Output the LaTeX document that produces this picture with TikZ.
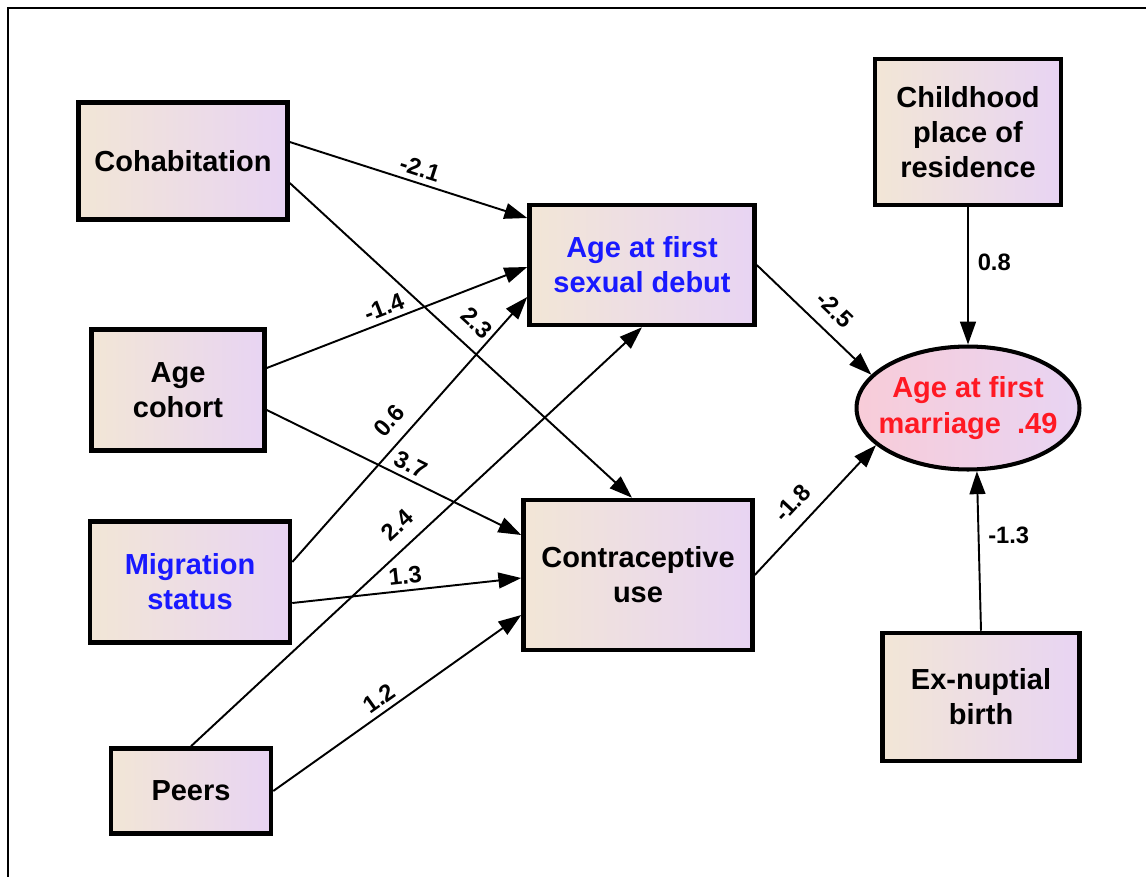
\documentclass[tikz,border=0pt]{standalone}
\usepackage{fontspec}
\setmainfont{Liberation Sans}
\usetikzlibrary{arrows.meta,calc,shapes.geometric}
\definecolor{boxleft}{RGB}{242,230,214}
\definecolor{boxright}{RGB}{232,212,243}
\definecolor{ellleft}{RGB}{248,204,216}
\definecolor{varblue}{RGB}{25,25,255}
\definecolor{varred}{RGB}{255,25,35}
\tikzset{
    varbox/.style={
        draw=black, 
        line width=2.6pt, 
        left color=boxleft, 
        right color=boxright,
        align=center,
        inner sep=0pt,
        font=\fontsize{16.5}{20}\selectfont\bfseries},
    outcome/.style={
        ellipse,
        draw=black, 
        line width=2.3pt, 
        left color=ellleft, 
        right color=boxright,
        align=center,
        inner xsep=-7.5pt,
        inner ysep=0pt,
        font=\fontsize{16.5}{20}\selectfont\bfseries},
    path arrow/.style={
        -{Triangle[length=13pt,width=9pt]},
        line width=1.1pt},
    coefficient/.style={
        inner sep=1pt,
        font=\fontsize{13.5}{16}\selectfont\bfseries},
    slanted coefficient/.style={
        coefficient,
        sloped, 
        above=2pt}
}

\begin{document}
\begin{tikzpicture}[x=0.02cm, y=-0.02cm]
\useasboundingbox (0,0) rectangle (1146,876);

% frame, cut at the right and bottom
\draw [line width=1.1pt] (1160,8) -- (8,8) -- (8,890);

% exogenous variables
\node [varbox, minimum width=4.18cm, minimum height=2.34cm] (coh) at (183,161) {Cohabitation};
\node [varbox, minimum width=3.46cm, minimum height=2.42cm] (coho) at (178,390) {Age\\cohort};
\node [varbox, minimum width=4.0cm, minimum height=2.42cm, text=varblue] (mig) at (190,582) {Migration\\status};
\node [varbox, minimum width=3.2cm, minimum height=1.7cm] (peer) at (191,791) {Peers};
\node [varbox, minimum width=3.72cm, minimum height=2.92cm] (child) at (968,132) {Childhood\\place of\\residence};
\node [varbox, minimum width=3.94cm, minimum height=2.56cm] (exnup) at (981,697) {Ex-nuptial\\birth};

% mediators and outcome
\node [varbox, minimum width=4.5cm, minimum height=2.4cm, text=varblue] (debut) at (642,265) {Age at first\\sexual debut};
\node [varbox, minimum width=4.58cm, minimum height=3.0cm] (contra) at (638,575) {Contraceptive\\use};
\node [outcome, minimum width=4.46cm, minimum height=2.46cm, text=varred] (marr) at (968,408) {Age at first\\marriage~~.49};

\draw [path arrow] ($(coh.east)+(0,-19)$) -- node [slanted coefficient, pos=0.53] {-2.1} ($(debut.west)+(0,-47)$);
\draw [path arrow] ($(coh.east)+(0,22)$) -- node [slanted coefficient, pos=0.5, above=5pt] {2.3} ($(contra.north)+(-6,0)$);
\draw [path arrow] ($(coho.east)+(0,-22)$) -- node [slanted coefficient, pos=0.47] {-1.4} ($(debut.west)+(0,2)$);
\draw [path arrow] ($(coho.east)+(0,20)$) -- node [slanted coefficient, pos=0.54] {3.7} ($(contra.west)+(0,-40)$);
\draw [path arrow] ($(mig.east)+(0,-20)$) -- node [slanted coefficient, pos=0.48, above=4pt] {0.6} ($(debut.west)+(0,32)$);
\draw [path arrow] ($(mig.east)+(0,21)$) -- node [slanted coefficient, pos=0.5] {1.3} ($(contra.west)+(0,3)$);
\draw [path arrow] (peer.north) -- node [slanted coefficient, pos=0.49, above=4pt] {2.4} (debut.south);
\draw [path arrow] (peer.east) -- node [slanted coefficient, pos=0.46] {1.2} ($(contra.west)+(0,40)$);

\draw [path arrow] (debut.east) -- node [slanted coefficient, pos=0.55, above=4pt] {-2.5} (marr.161);
\draw [path arrow] (contra.east) -- node [slanted coefficient, pos=0.44, above=4pt] {-1.8} (marr.202);
\draw [path arrow] (child.south) -- node [coefficient, right=4pt, pos=0.4] {0.8} (marr.north);
\draw [path arrow] (exnup.north) -- node [coefficient, right=4pt, pos=0.6] {-1.3} (marr.278);

\end{tikzpicture}
\end{document}
